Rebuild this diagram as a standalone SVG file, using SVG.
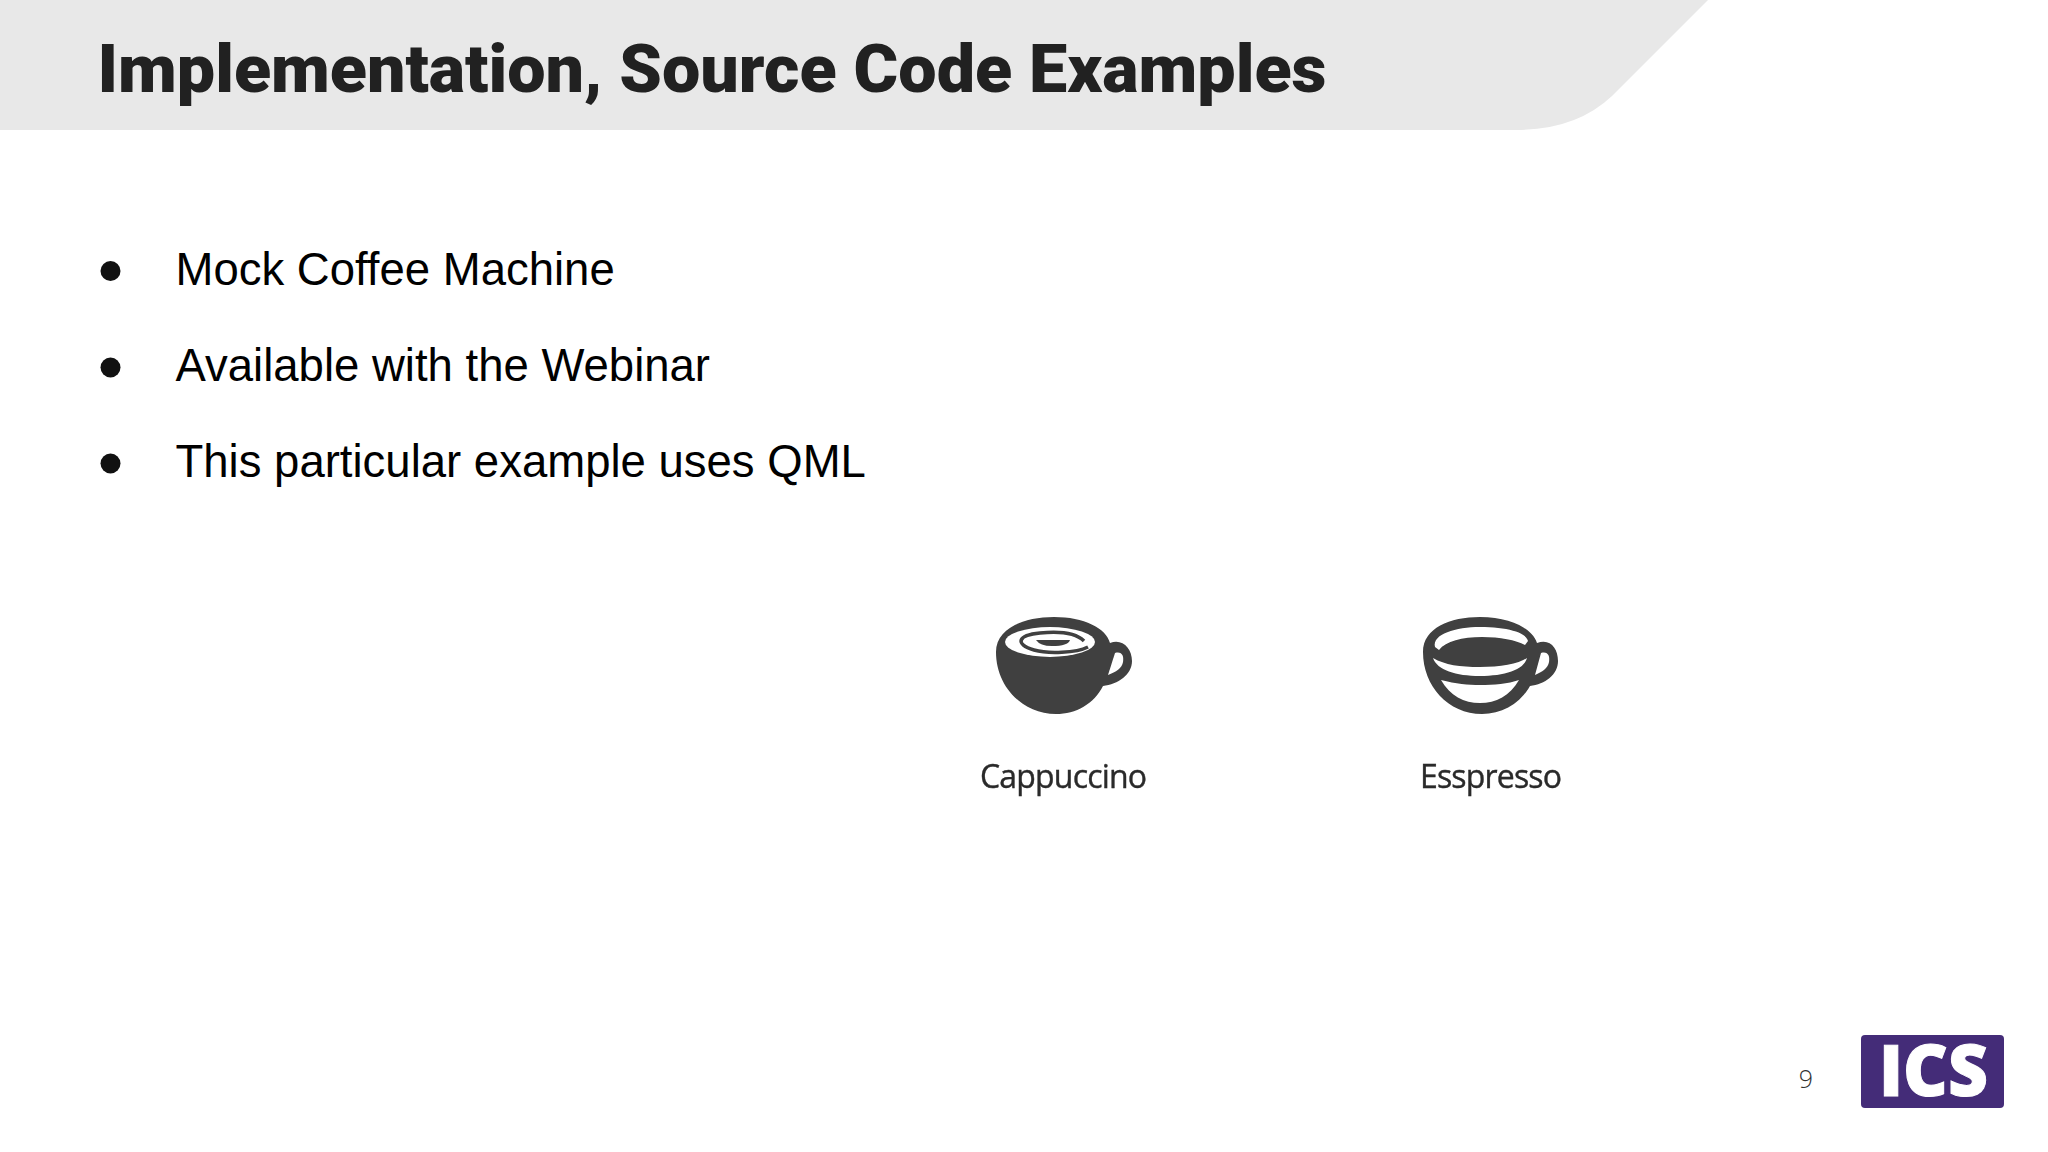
<svg xmlns="http://www.w3.org/2000/svg" width="2048" height="1152" viewBox="0 0 2048 1152">
<style>
.b{font-family:"Liberation Sans",Arial,sans-serif;font-size:45.500px;fill:#000}
.l{font-family:"Open Sans","Noto Sans",sans-serif;font-size:32px;fill:#2a2a2a;stroke:#2a2a2a;stroke-width:.4px}
.c{fill:#3f3f3f}
</style>
<defs><filter id="soft" x="-5%" y="-5%" width="110%" height="110%"><feGaussianBlur stdDeviation="0.6"/></filter></defs>
<rect width="2048" height="1152" fill="#fff"/>
<path id="header" d="M0 0H1708L1612 96Q1576 130 1516 130H0Z" fill="#e8e8e8"/>
<text x="97.500" y="91.500" font-family="Roboto,sans-serif" font-weight="900" font-size="66" fill="#212121" textLength="1229" lengthAdjust="spacingAndGlyphs">Implementation, Source Code Examples</text>
<g id="bullets">
<circle cx="110.500" cy="271" r="10" fill="#111"/><text class="b" x="175.500" y="284.500">Mock Coffee Machine</text>
<circle cx="110.500" cy="367.500" r="10" fill="#111"/><text class="b" x="175.500" y="381">Available with the Webinar</text>
<circle cx="110.500" cy="463.500" r="10" fill="#111"/><text class="b" x="175.500" y="477">This particular example uses QML</text>
</g>
<g id="cappuccino" filter="url(#soft)">
<path class="c" d="M996 652C996 628 1024 617 1054 617C1084 617 1106 628 1110 643C1122 638 1132 648 1132 661C1132 675 1118 684 1103 686C1094 704 1076 714 1056 714C1022 714 996 686 996 652Z"/>
<path d="M1115 653C1122 651 1124 656 1123 662C1122 668 1116 672 1108 675Z" fill="#fff"/>
<ellipse cx="1050" cy="642" rx="45" ry="15" fill="#fff"/>
<path d="M1088 647C1076 653 1048 654 1034 650C1014 644 1018 635 1040 633C1060 631 1076 633 1084 641" fill="none" stroke="#3f3f3f" stroke-width="3.500"/>
<path class="c" d="M1036 640H1070Q1068 646 1052 646Q1040 646 1036 640Z"/>
<text class="l" x="980" y="788" textLength="167">Cappuccino</text>
</g>
<g id="espresso" filter="url(#soft)">
<path class="c" d="M1423 652C1423 628 1450 617 1480 617C1510 617 1532 628 1537 643C1550 638 1558 648 1558 661C1558 675 1545 684 1530 686C1520 704 1502 714 1482 714C1448 714 1423 686 1423 652Z"/>
<path d="M1541 653C1548 651 1550 656 1549 662C1548 668 1542 672 1535 675Z" fill="#fff"/>
<path d="M1435 647C1432 634 1456 627 1480 627C1506 627 1526 632 1528 641L1525 645C1516 640 1500 637 1482 637C1462 637 1446 641 1439 650Z" fill="#fff"/>
<path d="M1433 658C1445 665 1460 667 1480 667C1500 667 1518 664 1527 658C1524 670 1504 676 1480 676C1456 676 1437 670 1433 658Z" fill="#fff"/>
<path d="M1441 680C1456 684 1468 685 1480 685C1494 685 1508 684 1519 680C1510 696 1496 703 1480 703C1464 703 1450 696 1441 680Z" fill="#fff"/>
<text class="l" x="1420" y="788" textLength="142">Esspresso</text>
</g>
<text id="page" x="1806" y="1088" font-family="Open Sans,sans-serif" font-size="25" font-weight="300" text-anchor="middle" fill="#333">9</text>
<g id="logo">
<rect x="1861" y="1035" width="143" height="73" rx="4" fill="#442c78"/>
<text x="1879" y="1096" font-family="Open Sans,sans-serif" font-weight="800" font-size="71" fill="#fff" stroke="#fff" stroke-width="1" textLength="109" lengthAdjust="spacingAndGlyphs">ICS</text>
</g>
</svg>
